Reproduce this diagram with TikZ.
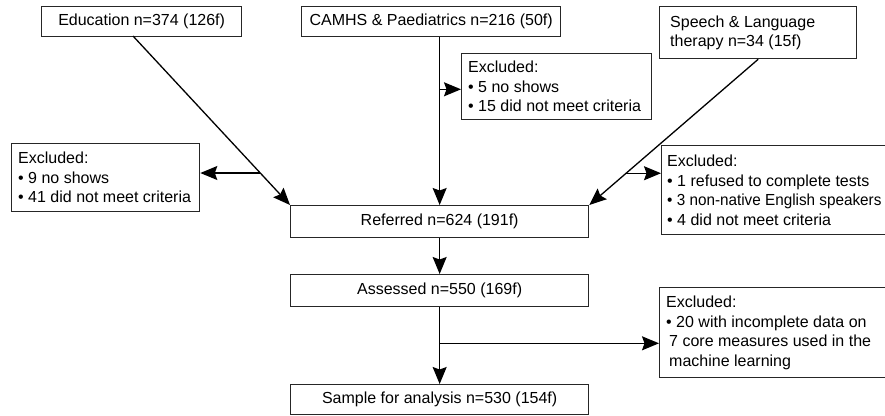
\documentclass[tikz,border=0pt]{standalone}
\usepackage{fontspec}
\setmainfont{Liberation Sans}
\usetikzlibrary{arrows.meta,calc}
\begin{document}
\begin{tikzpicture}[x=1pt,y=-1pt,
  font=\fontsize{16}{19.5}\selectfont,
  box/.style={draw=black!85, line width=1.3pt, anchor=north west, inner sep=0pt, align=center},
  txt/.style={anchor=west, inner sep=0pt, align=left},
  arr/.style={line width=1.3pt, -{Stealth[length=17pt,width=14pt,inset=2.5pt]}}]
\useasboundingbox (0,0) rectangle (885,415);
\clip (0,0) rectangle (885,415);
% top sources
\node[box, minimum width=200pt, minimum height=30pt] (edu) at (41,6) {Education n=374 (126f)};
\node[box, minimum width=259pt, minimum height=30pt] (cam) at (301,6) {CAMHS \& Paediatrics n=216 (50f)};
\node[box, minimum width=197pt, minimum height=52pt] (sp) at (659,6) {};
\node[txt] (spt) at ($(sp.west)+(11,0)$) {Speech \& Language\\therapy n=34 (15f)};
% excluded boxes
\node[box, minimum width=190pt, minimum height=66pt] (exc) at (461,53) {};
\node[txt] (exct) at ($(exc.west)+(7,0)$) {Excluded:\\• 5 no shows\\• 15 did not meet criteria};
\node[box, minimum width=188pt, minimum height=68pt] (exl) at (11,143) {};
\node[txt] (exlt) at ($(exl.west)+(7,0)$) {Excluded:\\• 9 no shows\\• 41 did not meet criteria};
\node[box, minimum width=230pt, minimum height=89pt] (exr) at (661,145) {};
\node[txt] (exrt) at ($(exr.west)+(6,0)$) {Excluded:\\• 1 refused to complete tests\\\scalebox{0.955}[1]{• 3 non-native English speakers}\\• 4 did not meet criteria};
\node[box, minimum width=230pt, minimum height=90pt] (exb) at (659,287) {};
\node[txt] (exbt) at ($(exb.west)+(7,0)$) {Excluded:\\• 20 with incomplete data on\\\hspace*{3pt}7 core measures used in the\\\hspace*{3pt}machine learning};
% main column
\node[box, minimum width=298pt, minimum height=32pt] (ref) at (290,205) {Referred n=624 (191f)};
\node[box, minimum width=298pt, minimum height=32pt] (ass) at (290,274) {Assessed n=550 (169f)};
\node[box, minimum width=298pt, minimum height=30pt] (smp) at (290,384) {Sample for analysis n=530 (154f)};
% connectors
\coordinate (eduout) at (133,36);
\draw[arr] (eduout) -- (ref.north west);
\coordinate (eb) at ($(eduout)!0.8107!(ref.north west)$);
\draw[arr] (eb) -- (eb -| exl.east);
\coordinate (camout) at (cam.south -| ref.north);
\draw[arr] (camout) -- (ref.north);
\coordinate (cb) at ($(camout)+(0,52)$);
\draw[arr] (cb) -- (cb -| exc.west);
\draw[arr] (sp.south) -- (ref.north east);
\coordinate (sb) at ($(sp.south)!0.782!(ref.north east)$);
\draw[arr] (sb) -- (sb -| exr.west);
\draw[arr] (ref.south) -- (ass.north);
\draw[arr] (ass.south) -- (smp.north);
\coordinate (ab) at ($(ass.south)+(0,36)$);
\draw[arr] (ab) -- (ab -| exb.west);
\end{tikzpicture}
\end{document}
